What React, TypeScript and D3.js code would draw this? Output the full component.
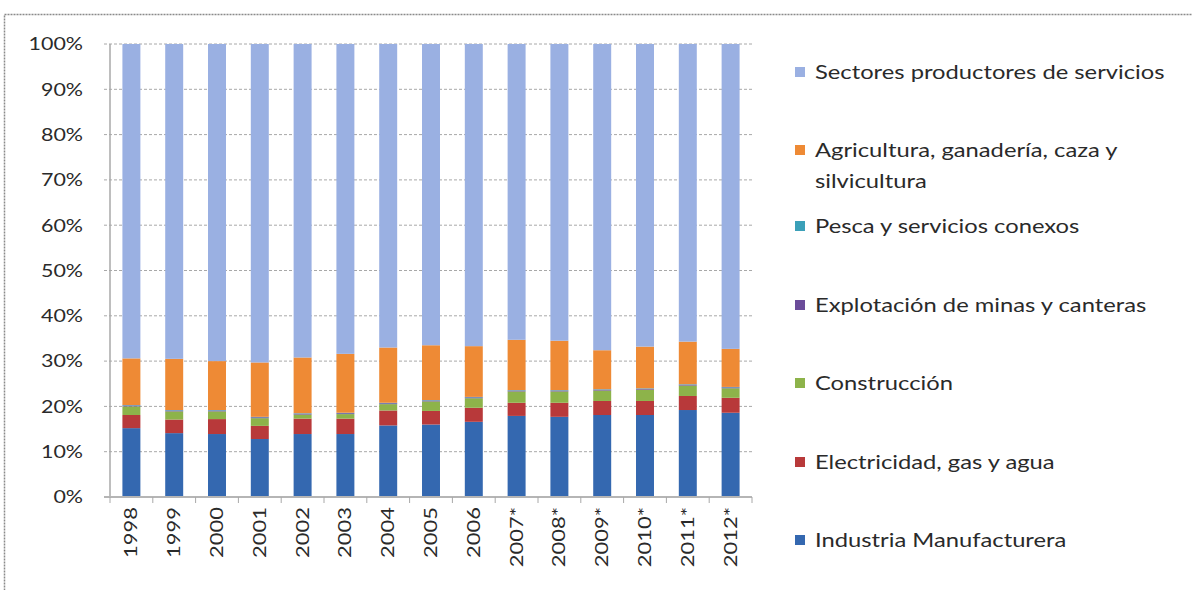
import React, { useEffect, useRef } from "react";
import * as d3 from "d3";

const years = ["1998","1999","2000","2001","2002","2003","2004","2005","2006","2007*","2008*","2009*","2010*","2011*","2012*"];
const industria = [15.2,14.1,13.9,12.8,13.9,13.9,15.8,16.0,16.6,17.9,17.7,18.1,18.1,19.2,18.6];
const electricidad = [2.9,3.0,3.3,2.9,3.4,3.4,3.3,3.0,3.1,2.9,3.1,3.1,3.1,3.1,3.3];
const construccion = [1.9,1.8,1.7,1.7,0.9,1.0,1.4,2.1,2.1,2.5,2.5,2.3,2.5,2.3,2.1];
const minas = [0.2,0.2,0.2,0.2,0.2,0.2,0.2,0.2,0.2,0.2,0.2,0.2,0.2,0.2,0.2];
const pesca = [0.1,0.1,0.1,0.1,0.1,0.1,0.1,0.1,0.1,0.1,0.1,0.1,0.1,0.1,0.1];
const agricultura = [10.3,11.3,10.8,12.0,12.3,13.0,12.2,12.1,11.2,11.1,10.9,8.6,9.2,9.4,8.4];
const servicios = [69.4,69.5,70.0,70.3,69.2,68.4,67.0,66.5,66.7,65.3,65.5,67.6,66.8,65.7,67.3];
const yTicks = [0,10,20,30,40,50,60,70,80,90,100];

const seriesNames = ["Industria Manufacturera","Electricidad, gas y agua","Construcción","Explotación de minas y canteras","Pesca y servicios conexos","Agricultura, ganadería, caza y silvicultura","Sectores productores de servicios"];
const seriesKeys = ["ind","ele","con","min","pes","agr","ser"];
const seriesColors = ["#3468B0","#B8393A","#8DB34A","#6B4C9A","#3BA0B8","#EE8A35","#9AB0E2"];

export default function App() {
  const ref = useRef<SVGSVGElement>(null);
  useEffect(() => {
    const svg = d3.select(ref.current);
    svg.selectAll("*").remove();
    const W = 1192, H = 590;
    const left = 110, right = 752, top = 44, bottom = 497;
    const font = "Lato, 'Open Sans', sans-serif";
    const txt = "#2a2a2a";

    svg.append("rect").attr("x", 4.5).attr("y", 14.5).attr("width", W).attr("height", H)
      .attr("fill", "white").attr("stroke", "#8a8a8a").attr("stroke-width", 1.5).attr("stroke-dasharray", "2,1");

    const rows = years.map((y, i) => ({
      year: y, ind: industria[i], ele: electricidad[i], con: construccion[i], min: minas[i],
      pes: pesca[i], agr: agricultura[i], ser: servicios[i],
    }));
    const stacked = d3.stack<any>().keys(seriesKeys).offset(d3.stackOffsetExpand)(rows);

    const x = d3.scaleBand().domain(years).range([left, right]).paddingInner(0.58).paddingOuter(0.29);
    const y = d3.scaleLinear().domain([0, 1]).range([bottom, top]);

    const g = svg.append("g");
    yTicks.forEach((t) => {
      if (t === 0) return;
      g.append("line").attr("x1", left - 6).attr("x2", right).attr("y1", y(t / 100)).attr("y2", y(t / 100))
        .attr("stroke", "#a8a8a8").attr("stroke-width", 1).attr("stroke-dasharray", "3,2");
    });
    g.append("line").attr("x1", left).attr("x2", left).attr("y1", top).attr("y2", bottom)
      .attr("stroke", "#a8a8a8").attr("stroke-width", 1.5);

    stacked.forEach((s, si) => {
      svg.append("g").selectAll("rect").data(s).join("rect")
        .attr("x", (d: any) => x(d.data.year)!)
        .attr("width", x.bandwidth())
        .attr("y", (d: any) => y(d[1]))
        .attr("height", (d: any) => Math.max(0, y(d[0]) - y(d[1])))
        .attr("fill", seriesColors[si]);
    });

    svg.append("line").attr("x1", left - 6).attr("x2", right).attr("y1", bottom).attr("y2", bottom)
      .attr("stroke", "#b5b5b5").attr("stroke-width", 2);
    const step = x.step();
    years.forEach((yr, i) => {
      const bx = left + (i + 1) * step;
      svg.append("line").attr("x1", bx).attr("x2", bx).attr("y1", bottom).attr("y2", bottom + 6)
        .attr("stroke", "#a8a8a8");
    });
    svg.append("line").attr("x1", left).attr("x2", left).attr("y1", bottom).attr("y2", bottom + 6).attr("stroke", "#a8a8a8");

    yTicks.forEach((t) => {
      svg.append("text").attr("transform", `translate(83,${y(t / 100)}) scale(1.19,1)`).attr("dy", "0.35em")
        .attr("text-anchor", "end").attr("font-family", font).attr("font-size", 18).attr("fill", txt)
        .text(`${t}%`);
    });
    years.forEach((yr) => {
      const cx = x(yr)! + x.bandwidth() / 2;
      svg.append("text").attr("transform", `translate(${cx + 6},${bottom + 10}) rotate(-90) scale(1.22,1)`)
        .attr("text-anchor", "end").attr("font-family", font).attr("font-size", 18).attr("fill", txt)
        .text(yr);
    });

    const legY = [72, 150, 226, 305, 383, 462, 540];
    const order = [6, 5, 4, 3, 2, 1, 0];
    order.forEach((si, k) => {
      const ly = legY[k];
      svg.append("rect").attr("x", 795).attr("y", ly - 5).attr("width", 10).attr("height", 10).attr("fill", seriesColors[si]);
      const name = seriesNames[si];
      const t = svg.append("text").attr("transform", `translate(815,${ly}) scale(1.25,1)`).attr("dy", "0.35em")
        .attr("font-family", font).attr("font-size", 19).attr("fill", txt);
      if (si === 5) {
        t.append("tspan").attr("x", 0).text("Agricultura, ganadería, caza y");
        t.append("tspan").attr("x", 0).attr("dy", 31).text("silvicultura");
      } else {
        t.text(name);
      }
    });
  }, []);
  return <svg ref={ref} width={1192} height={590} style={{ display: "block", position: "absolute", left: 0, top: 0 }} />;
}
